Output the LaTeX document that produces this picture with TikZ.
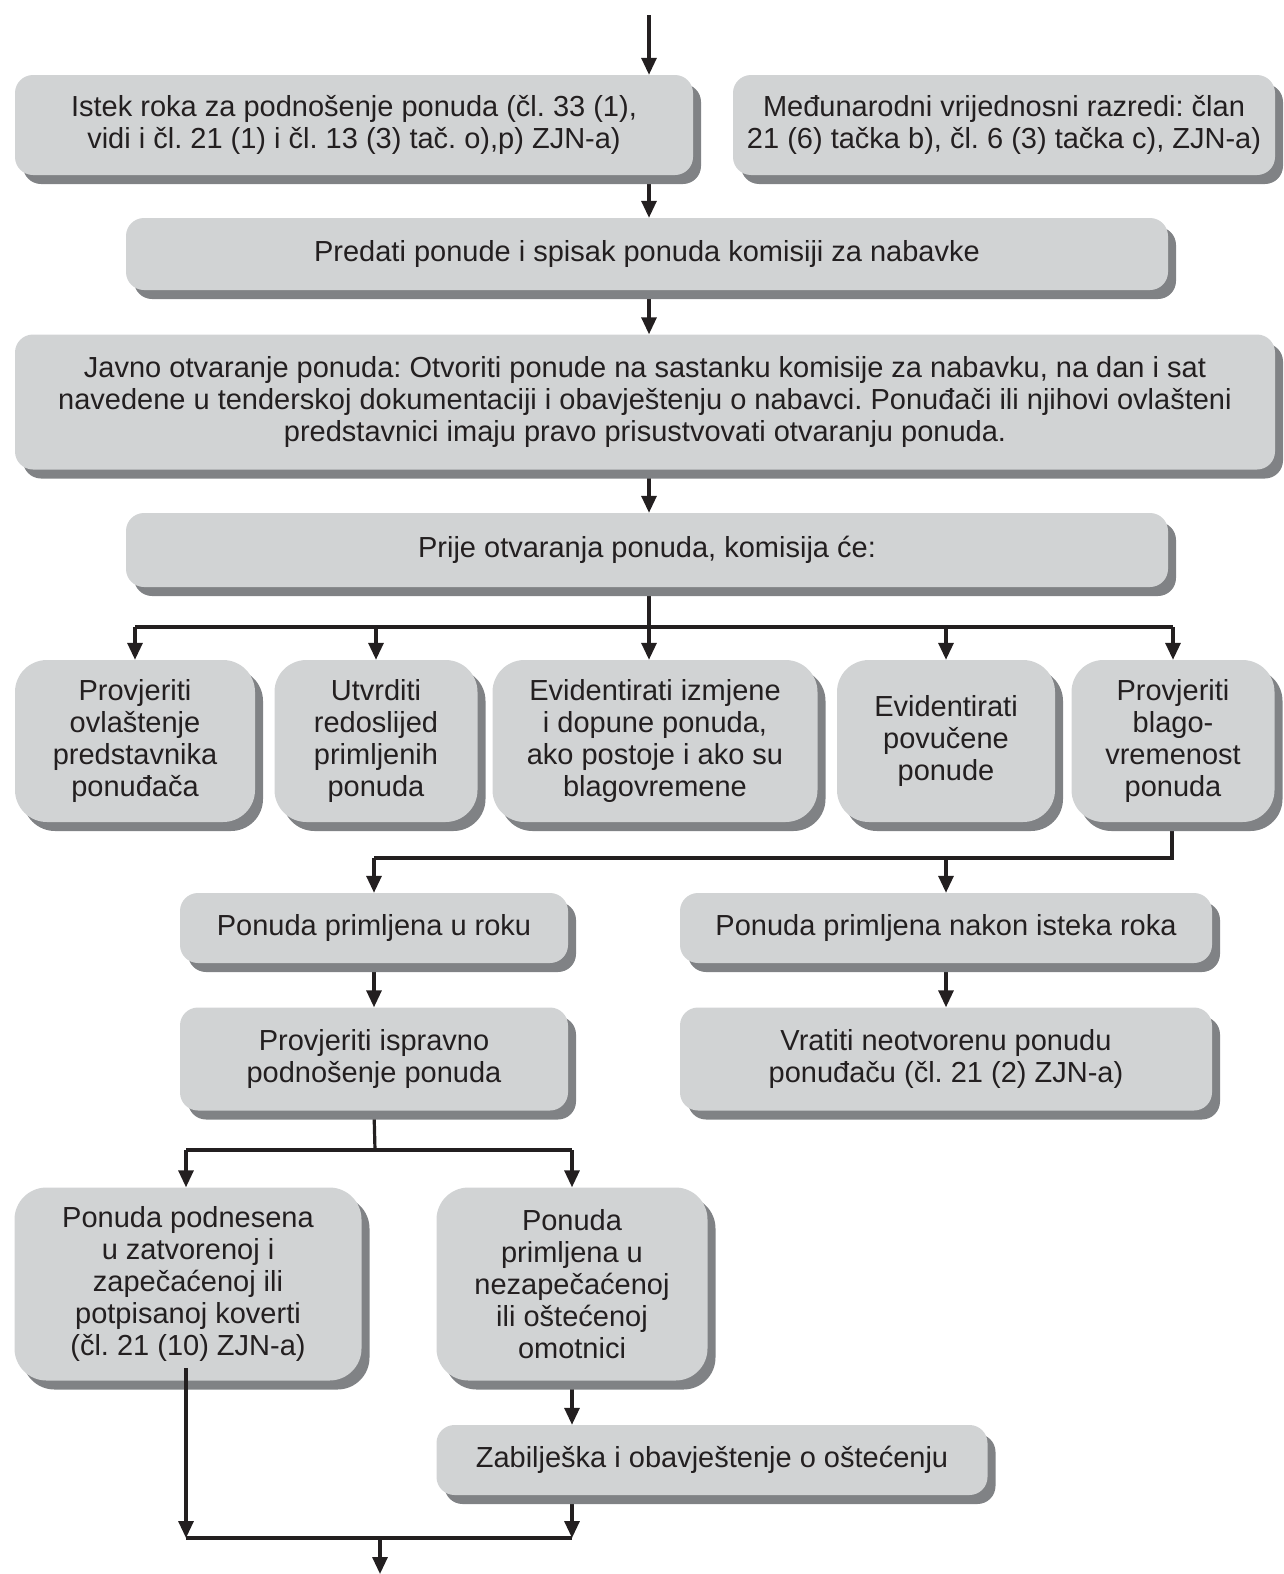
\documentclass[tikz,border=0pt]{standalone}
\usepackage{fontspec}
\setmainfont{Liberation Sans}
\usetikzlibrary{arrows.meta,shadows}
\definecolor{boxgray}{HTML}{D1D3D4}
\definecolor{shadegray}{HTML}{808285}
\definecolor{ink}{HTML}{231F20}
\pgfdeclarelayer{background}
\pgfsetlayers{background,main}
\frenchspacing
\begin{document}
\begin{tikzpicture}[x=1pt,y=-1pt,
  font=\fontsize{29}{32}\selectfont,
  box/.style={fill=boxgray, draw=none, rounded corners=18pt, inner sep=0pt,
    align=center, text=ink,
    drop shadow={shadow xshift=8pt, shadow yshift=-9pt, fill=shadegray, opacity=1}},
  tallbox/.style={box, rounded corners=32pt},
  arr/.style={draw=ink, line width=3.2pt, -{Triangle[width=15pt,length=17pt]}},
  ln/.style={draw=ink, line width=3.2pt}]
\useasboundingbox (0,0) rectangle (1284,1574);

% boxes: centre, width, height
\node[box, minimum width=678pt, minimum height=100pt] (istek) at (354,125)
  {Istek roka za podnošenje ponuda (čl. 33 (1),\\vidi i čl. 21 (1) i čl. 13 (3) tač. o),p) ZJN-a)};
\node[box, minimum width=542pt, minimum height=100pt] (razredi) at (1004,125)
  {Međunarodni vrijednosni razredi: član\\21 (6) tačka b), čl. 6 (3) tačka c), ZJN-a)};
\node[box, minimum width=1042pt, minimum height=72pt] (predati) at (647,254)
  {Predati ponude i spisak ponuda komisiji za nabavke};
\node[box, minimum width=1260pt, minimum height=135pt] (javno) at (645,402)
  {Javno otvaranje ponuda: Otvoriti ponude na sastanku komisije za nabavku, na dan i sat\\navedene u tenderskoj dokumentaciji i obavještenju o nabavci. Ponuđači ili njihovi ovlašteni\\predstavnici imaju pravo prisustvovati otvaranju ponuda.};
\node[box, minimum width=1042pt, minimum height=74pt] (prije) at (647,550)
  {Prije otvaranja ponuda, komisija će:};

\node[tallbox, minimum width=240pt, minimum height=162pt] (ovlast) at (135,741)
  {Provjeriti\\ovlaštenje\\predstavnika\\ponuđača};
\node[tallbox, minimum width=203pt, minimum height=162pt] (redosl) at (376,741)
  {Utvrditi\\redoslijed\\primljenih\\ponuda};
\node[tallbox, minimum width=325pt, minimum height=162pt] (izmjene) at (655,741)
  {Evidentirati izmjene\\i dopune ponuda,\\ako postoje i ako su\\blagovremene};
\node[tallbox, minimum width=218pt, minimum height=162pt] (povuc) at (946,741)
  {Evidentirati\\povučene\\ponude};
\node[tallbox, minimum width=203pt, minimum height=162pt] (blago) at (1173,741)
  {Provjeriti\\blago-\\vremenost\\ponuda};

\node[box, minimum width=388pt, minimum height=70pt] (uroku) at (374,928)
  {Ponuda primljena u roku};
\node[box, minimum width=532pt, minimum height=70pt] (nakon) at (946,928)
  {Ponuda primljena nakon isteka roka};
\node[box, minimum width=388pt, minimum height=103pt] (isprav) at (374,1059)
  {Provjeriti ispravno\\podnošenje ponuda};
\node[box, minimum width=532pt, minimum height=103pt] (vratiti) at (946,1059)
  {Vratiti neotvorenu ponudu\\ponuđaču (čl. 21 (2) ZJN-a)};

\node[tallbox, minimum width=347pt, minimum height=193pt] (zatvor) at (188,1284)
  {Ponuda podnesena\\u zatvorenoj i\\zapečaćenoj ili\\potpisanoj koverti\\(čl. 21 (10) ZJN-a)};
\node[tallbox, minimum width=271pt, minimum height=193pt] (ostec) at (572,1284)
  {Ponuda\\primljena u\\nezapečaćenoj\\ili oštećenoj\\omotnici};
\node[box, minimum width=551pt, minimum height=70pt] (zabilj) at (712,1460)
  {Zabilješka i obavještenje o oštećenju};

% junction points of the connectors
\coordinate (in) at (649,15);
\coordinate (fanrow) at (649,627);
\coordinate (fanrok) at (1172,858);
\coordinate (fanpod) at (375,1150);
\coordinate (fromzat) at (186,1368);
\coordinate (merge) at (186,1538);
\coordinate (out) at (380,1574);

\begin{pgfonlayer}{background}
  \draw[arr] (in) -- (in |- istek.north);
  \draw[arr] (in |- istek.south) -- (in |- predati.north);
  \draw[arr] (in |- predati.south) -- (in |- javno.north);
  \draw[arr] (in |- javno.south) -- (in |- prije.north);
  % fan-out to the five checks
  \draw[ln] (in |- prije.south) -- (fanrow);
  \draw[ln] (fanrow -| ovlast) -- (fanrow -| blago);
  \draw[arr] (fanrow -| ovlast) -- (ovlast.north);
  \draw[arr] (fanrow -| redosl) -- (redosl.north);
  \draw[arr] (fanrow) -- (fanrow |- izmjene.north);
  \draw[arr] (fanrow -| povuc) -- (povuc.north);
  \draw[arr] (fanrow -| blago) -- (blago.north);
  % timeliness split
  \draw[ln] (fanrok |- blago.south) -- (fanrok) -- (fanrok -| uroku);
  \draw[arr] (fanrok -| uroku) -- (uroku.north);
  \draw[arr] (fanrok -| nakon) -- (nakon.north);
  \draw[arr] (uroku.south) -- (isprav.north);
  \draw[arr] (nakon.south) -- (vratiti.north);
  % envelope check split
  \draw[ln] (isprav.south) -- (fanpod);
  \draw[ln] (fanpod -| fromzat) -- (fanpod -| ostec);
  \draw[arr] (fanpod -| fromzat) -- (fromzat |- zatvor.north);
  \draw[arr] (fanpod -| ostec) -- (ostec.north);
  \draw[arr] (ostec.south) -- (ostec |- zabilj.north);
  \draw[arr] (ostec |- zabilj.south) -- (merge -| ostec);
  \draw[ln] (merge) -- (merge -| ostec);
  \draw[arr] (merge -| out) -- (out);
\end{pgfonlayer}
\draw[arr] (fromzat) -- (merge);
\end{tikzpicture}
\end{document}
